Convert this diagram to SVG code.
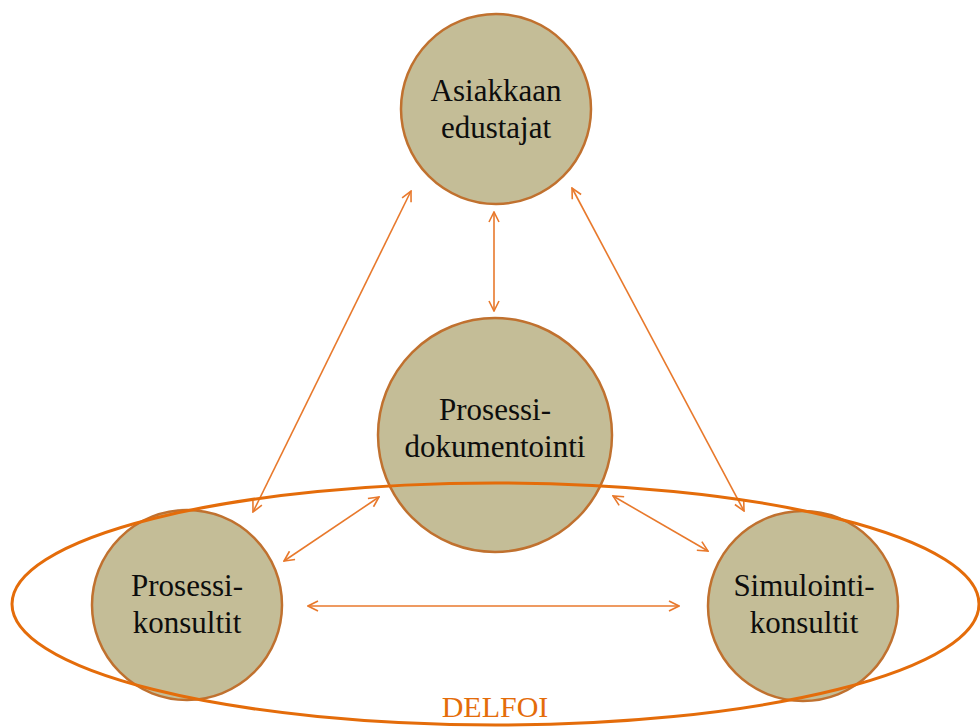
<svg xmlns="http://www.w3.org/2000/svg" width="980" height="727" viewBox="0 0 980 727">
  <style>
    .node circle { fill: #C4BD97; stroke: #C0712F; stroke-width: 2.5; }
    .node text { font-family: "Liberation Serif", "Times New Roman", serif; font-size: 31px; fill: #0d0d0d; text-anchor: middle; }
    .link { fill: none; stroke: #E8792C; stroke-width: 1.6; marker-start: url(#head); marker-end: url(#head); }
    .group { fill: none; stroke: #E46C0A; stroke-width: 3; }
    .label { font-family: "Liberation Serif", "Times New Roman", serif; font-size: 30px; fill: #E46C0A; text-anchor: middle; }
  </style>
  <defs>
    <marker id="head" viewBox="0 0 12 12" refX="11" refY="6" markerWidth="12" markerHeight="12" markerUnits="userSpaceOnUse" orient="auto-start-reverse">
      <path d="M1,1 L11,6 L1,11" fill="none" stroke="#E8792C" stroke-width="1.6"/>
    </marker>
  </defs>
  <rect width="980" height="727" fill="#ffffff"/>

  <!-- two-headed links between the participant groups -->
  <g id="connectors">
    <line class="link" x1="253" y1="512" x2="411" y2="191"/>
    <line class="link" x1="744" y1="511" x2="572" y2="188"/>
    <line class="link" x1="494" y1="311" x2="494" y2="212"/>
    <line class="link" x1="284" y1="561" x2="379" y2="497"/>
    <line class="link" x1="708" y1="551" x2="613" y2="496"/>
    <line class="link" x1="308" y1="606" x2="679" y2="606"/>
  </g>

  <g id="node-asiakkaan" class="node">
    <circle cx="496" cy="109" r="95"/>
    <text x="496" y="101">Asiakkaan</text>
    <text x="496" y="138">edustajat</text>
  </g>

  <g id="node-dokumentointi" class="node">
    <circle cx="495" cy="435" r="117"/>
    <text x="495" y="420">Prosessi-</text>
    <text x="495" y="457">dokumentointi</text>
  </g>

  <g id="node-prosessikonsultit" class="node">
    <circle cx="187" cy="605" r="95"/>
    <text x="187" y="596">Prosessi-</text>
    <text x="187" y="633">konsultit</text>
  </g>

  <g id="node-simulointikonsultit" class="node">
    <circle cx="803" cy="606" r="95"/>
    <text x="804" y="596">Simulointi-</text>
    <text x="804" y="633">konsultit</text>
  </g>

  <!-- the panel boundary, drawn over the circles it crosses -->
  <g id="delfoi">
    <ellipse class="group" cx="495.5" cy="604" rx="483.5" ry="121"/>
    <text class="label" x="495" y="717">DELFOI</text>
  </g>
</svg>
